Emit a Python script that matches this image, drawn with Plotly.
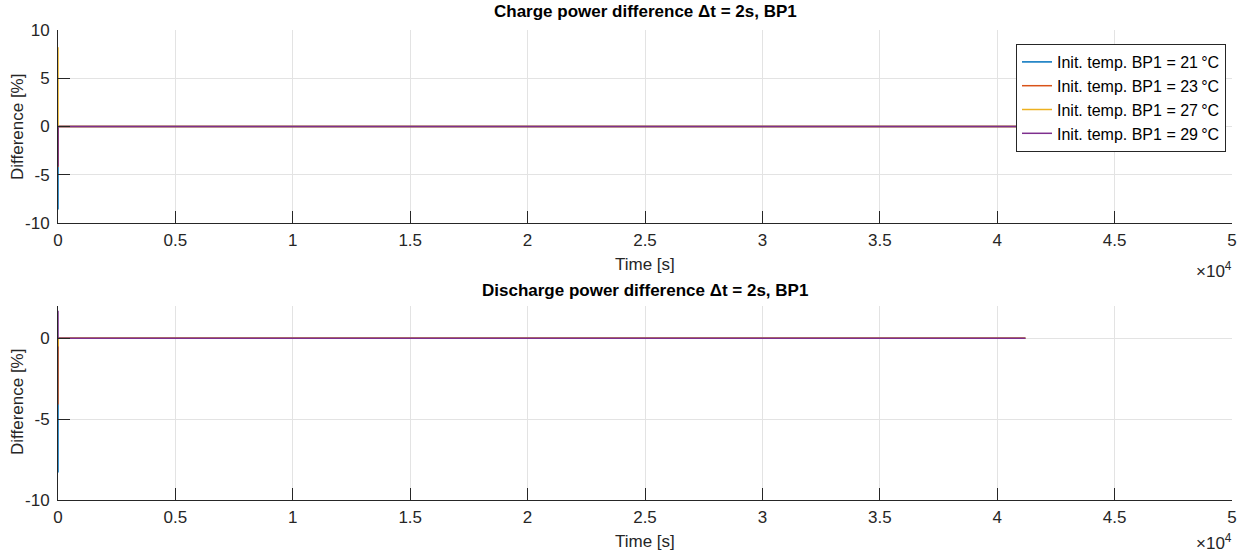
import plotly.graph_objects as go

# ---------------- data ----------------
time_s = [0, 2, 41200]

series_names = ["Init. temp. BP1 = 21\u2009\u00b0C", "Init. temp. BP1 = 23\u2009\u00b0C",
                "Init. temp. BP1 = 27\u2009\u00b0C", "Init. temp. BP1 = 29\u2009\u00b0C"]

charge_21 = [-8.6, 0.0, 0.0]
charge_23 = [-4.2, 0.0, 0.0]
charge_27 = [8.2, 0.0, 0.0]
charge_29 = [-4.1, 0.0, 0.0]

discharge_21 = [-8.3, 0.0, 0.0]
discharge_23 = [-4.1, 0.0, 0.0]
discharge_27 = [-0.5, 0.0, 0.0]
discharge_29 = [1.7, 0.0, 0.0]

x_tickvals = [0, 5000, 10000, 15000, 20000, 25000, 30000, 35000, 40000, 45000, 50000]
x_ticktext = ["0", "0.5", "1", "1.5", "2", "2.5", "3", "3.5", "4", "4.5", "5"]
y1_tickvals = [-10, -5, 0, 5, 10]
y1_ticktext = ["-10", "-5", "0", "5", "10"]
y2_tickvals = [-10, -5, 0]
y2_ticktext = ["-10", "-5", "0"]

colors = ["#0072BD", "#D95319", "#EDB120", "#7E2F8E"]

# ---------------- figure ----------------
W, H = 1243, 553
FONT = "Liberation Sans, Arial, Helvetica, sans-serif"
AX = "#262626"
GRID = "#e3e3e3"

fig = go.Figure()

charge = [charge_21, charge_23, charge_27, charge_29]
discharge = [discharge_21, discharge_23, discharge_27, discharge_29]

for name, vals, c in zip(series_names, charge, colors):
    fig.add_trace(go.Scatter(x=time_s, y=vals, mode="lines", name=name,
                             line=dict(color=c, width=1.5), xaxis="x", yaxis="y"))
for name, vals, c in zip(series_names, discharge, colors):
    fig.add_trace(go.Scatter(x=time_s, y=vals, mode="lines", name=name, showlegend=False,
                             line=dict(color=c, width=1.5), xaxis="x2", yaxis="y2"))

x0, x1 = 58 / W, 1232 / W
top_dom = [1 - 223 / H, 1 - 30 / H]
bot_dom = [1 - 500 / H, 1 - 306 / H]

TICKFONT = dict(size=17, color=AX, family=FONT)
common_x = dict(range=[0, 50000], tickvals=x_tickvals, ticktext=x_ticktext,
                showgrid=True, gridcolor=GRID, gridwidth=1, zeroline=False,
                showline=True, linecolor=AX, linewidth=1, ticks="inside", ticklen=12,
                tickcolor=AX, tickfont=TICKFONT,
                domain=[x0, x1], automargin=False, ticklabelstandoff=2)
common_y = dict(showgrid=True, gridcolor=GRID, gridwidth=1, zeroline=False,
                showline=True, linecolor=AX, linewidth=1, ticks="inside", ticklen=12,
                tickcolor=AX, tickfont=TICKFONT,
                automargin=False, ticklabelstandoff=4)

fig.update_layout(
    width=W, height=H,
    margin=dict(l=0, r=0, t=0, b=0),
    paper_bgcolor="white", plot_bgcolor="white",
    font=dict(family=FONT, color=AX),
    xaxis=dict(**common_x, anchor="y"),
    yaxis=dict(**common_y, range=[-10, 10], tickvals=y1_tickvals, ticktext=y1_ticktext,
               domain=top_dom, anchor="x"),
    xaxis2=dict(**common_x, anchor="y2"),
    yaxis2=dict(**common_y, range=[-10, 2], tickvals=y2_tickvals, ticktext=y2_ticktext,
                domain=bot_dom, anchor="x2"),
    legend=dict(x=1226 / W, y=1 - 44 / H, xanchor="right", yanchor="top",
                bgcolor="white", bordercolor=AX, borderwidth=1,
                font=dict(size=16, color="black", family=FONT),
                tracegroupgap=0, itemwidth=30),
    showlegend=True,
)

cx = (58 + 1232) / 2 / W
ann = []
def add_text(text, x, y, size, bold=False, angle=0, xanchor="center", yanchor="middle"):
    ann.append(dict(text=("<b>%s</b>" % text) if bold else text, x=x, y=y,
                    xref="paper", yref="paper", showarrow=False, textangle=angle,
                    xanchor=xanchor, yanchor=yanchor,
                    font=dict(size=size, color="black" if bold else AX, family=FONT)))

add_text("Charge power difference \u0394t = 2s, BP1", cx, 1 - 11 / H, 17, bold=True)
add_text("Discharge power difference \u0394t = 2s, BP1", cx, 1 - 290 / H, 17, bold=True)
add_text("Time [s]", cx, 1 - 264 / H, 17)
add_text("Time [s]", cx, 1 - 541 / H, 17)
add_text("Difference [%]", 17 / W, 1 - 127 / H, 17, angle=-90)
add_text("Difference [%]", 17 / W, 1 - 402 / H, 17, angle=-90)
add_text("\u00d710<sup>4</sup>", 1234 / W, 1 - 270 / H, 17, xanchor="right")
add_text("\u00d710<sup>4</sup>", 1234 / W, 1 - 542 / H, 17, xanchor="right")
fig.update_layout(annotations=ann)

fig.write_html("out.html", config={"displayModeBar": False},
               post_script="document.body.style.margin='0px';document.body.style.overflow='hidden';")
